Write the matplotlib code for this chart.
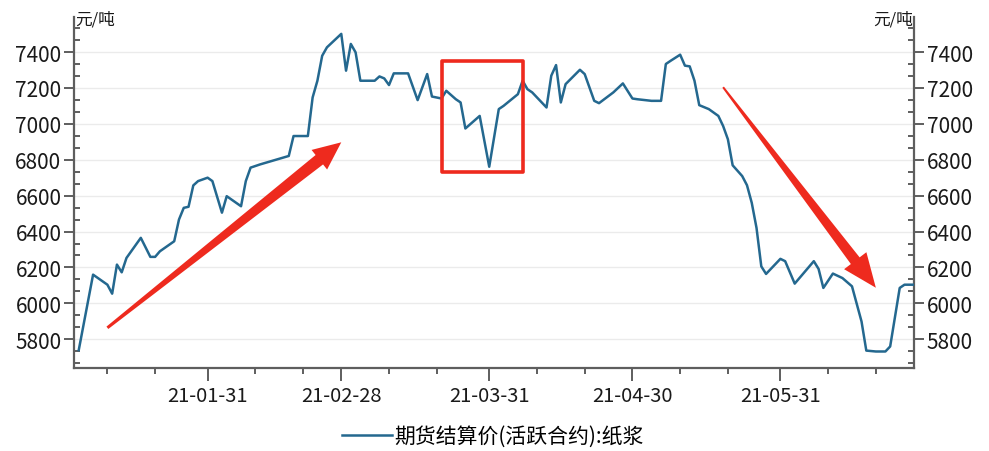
import matplotlib
matplotlib.use("Agg")
import matplotlib.pyplot as plt
import matplotlib.dates as mdates
from matplotlib.ticker import MultipleLocator
from matplotlib.patches import Rectangle, Polygon
from matplotlib.transforms import IdentityTransform
import numpy as np
import pandas as pd

plt.rcParams['font.family'] = ['Noto Sans CJK SC', 'DejaVu Sans']

# 纸浆期货结算价（活跃合约），2021年上半年
dates = [
    '2021-01-04', '2021-01-05', '2021-01-07', '2021-01-10', '2021-01-11', '2021-01-12',
    '2021-01-13', '2021-01-14', '2021-01-17', '2021-01-19', '2021-01-20', '2021-01-21',
    '2021-01-24', '2021-01-25', '2021-01-26', '2021-01-27', '2021-01-28', '2021-01-29',
    '2021-01-31', '2021-02-01', '2021-02-03', '2021-02-04', '2021-02-07', '2021-02-08',
    '2021-02-09', '2021-02-11', '2021-02-17', '2021-02-18', '2021-02-21', '2021-02-22',
    '2021-02-23', '2021-02-24', '2021-02-25', '2021-02-28', '2021-03-01', '2021-03-02',
    '2021-03-03', '2021-03-04', '2021-03-07', '2021-03-08', '2021-03-09', '2021-03-10',
    '2021-03-11', '2021-03-14', '2021-03-16', '2021-03-18', '2021-03-19', '2021-03-21',
    '2021-03-22', '2021-03-24', '2021-03-25', '2021-03-26', '2021-03-29', '2021-03-31',
    '2021-04-02', '2021-04-03', '2021-04-06', '2021-04-07', '2021-04-08', '2021-04-09',
    '2021-04-12', '2021-04-13', '2021-04-14', '2021-04-15', '2021-04-16', '2021-04-19',
    '2021-04-20', '2021-04-22', '2021-04-23', '2021-04-26', '2021-04-28', '2021-04-30',
    '2021-05-01', '2021-05-04', '2021-05-06', '2021-05-07', '2021-05-08', '2021-05-10',
    '2021-05-11', '2021-05-12', '2021-05-13', '2021-05-14', '2021-05-16', '2021-05-18',
    '2021-05-19', '2021-05-20', '2021-05-21', '2021-05-23', '2021-05-24', '2021-05-25',
    '2021-05-26', '2021-05-27', '2021-05-28', '2021-05-31', '2021-06-01', '2021-06-03',
    '2021-06-07', '2021-06-08', '2021-06-09', '2021-06-11', '2021-06-13', '2021-06-15',
    '2021-06-17', '2021-06-18', '2021-06-20', '2021-06-22', '2021-06-23', '2021-06-25',
    '2021-06-26', '2021-06-28',
]
prices = [
    5740, 5880, 6160, 6104, 6054, 6216,
    6173, 6253, 6365, 6259, 6259, 6290,
    6346, 6467, 6532, 6538, 6657, 6681,
    6700, 6681, 6505, 6597, 6541, 6681,
    6756, 6774, 6821, 6932, 6932, 7147,
    7240, 7379, 7426, 7501, 7296, 7445,
    7398, 7240, 7240, 7264, 7253, 7216,
    7281, 7281, 7132, 7277, 7152, 7141,
    7184, 7137, 7119, 6974, 7044, 6761,
    7082, 7100, 7165, 7240, 7193, 7175,
    7091, 7268, 7327, 7119, 7221, 7301,
    7277, 7128, 7115, 7175, 7225, 7141,
    7137, 7128, 7128, 7333, 7351, 7385,
    7324, 7320, 7240, 7104, 7082, 7044,
    6988, 6914, 6769, 6709, 6658, 6560,
    6420, 6206, 6164, 6248, 6235, 6110,
    6235, 6192, 6086, 6166, 6141, 6095,
    5899, 5737, 5732, 5732, 5760, 6086,
    6104, 6104,
]
series_name = '期货结算价(活跃合约):纸浆'
unit = '元/吨'
month_end_ticks = ['2021-01-31', '2021-02-28', '2021-03-31', '2021-04-30', '2021-05-31']

# 标注：上涨箭头、三月回落方框、下跌箭头 (日期, 价格)
up_arrow = (('2021-01-10', 5864), ('2021-02-28', 6897))
dip_box = (('2021-03-21', 6730), ('2021-04-07', 7350))
down_arrow = (('2021-05-19', 7204), ('2021-06-20', 6087))

x = pd.to_datetime(dates)
line_color = '#24688f'
red = '#ee2a1e'
axis_color = '#5e5e5e'

fig = plt.figure(figsize=(9.89, 4.52), dpi=100)
ax = fig.add_axes([0.0748, 0.1836, 0.8494, 0.7766])

ax.plot(x, prices, color=line_color, lw=1.8, label=series_name, zorder=3)

ax.set_xlim(pd.Timestamp('2021-01-03'), pd.Timestamp('2021-06-28'))
ax.set_ylim(5640, 7595)

ax.yaxis.set_major_locator(MultipleLocator(200))
ax.yaxis.set_minor_locator(MultipleLocator(200 / 3))
ax.set_xticks(pd.to_datetime(month_end_ticks))
ax.xaxis.set_major_formatter(mdates.DateFormatter('%y-%m-%d'))
ax.xaxis.set_minor_locator(mdates.DayLocator(bymonthday=[10, 20]))

ax.grid(axis='y', which='major', color='#ebebeb', lw=1.0, zorder=0)

for side in ['left', 'right', 'bottom']:
    ax.spines[side].set_color(axis_color)
    ax.spines[side].set_linewidth(1.6)
ax.spines['top'].set_visible(False)

ax.tick_params(axis='y', which='major', direction='out', length=7, width=1.4,
               color=axis_color, labelsize=15, labelcolor='#1a1a1a', pad=2,
               left=True, right=True, labelleft=True, labelright=True)
ax.tick_params(axis='y', which='minor', direction='in', length=4.5, width=1.4,
               color=axis_color, left=True, right=True)
ax.tick_params(axis='x', which='major', direction='out', length=9.5, width=1.4,
               color=axis_color, labelsize=14.5, labelcolor='#1a1a1a', pad=3)
ax.tick_params(axis='x', which='minor', direction='out', length=4, width=1.4,
               color=axis_color)

fig.text(75 / 989, 1 - 20 / 452, unit, fontsize=12, ha='left', va='center', color='#1a1a1a')
fig.text(913 / 989, 1 - 20 / 452, unit, fontsize=12, ha='right', va='center', color='#1a1a1a')


def tapered_arrow(start, end, tail=2.4, shaft=11, head=26, head_len=30):
    """尾部尖细、逐渐加粗的箭头，尺寸单位为像素"""
    p0 = ax.transData.transform((mdates.date2num(pd.Timestamp(start[0])), start[1]))
    p1 = ax.transData.transform((mdates.date2num(pd.Timestamp(end[0])), end[1]))
    d = (p1 - p0) / np.hypot(*(p1 - p0))
    n = np.array([-d[1], d[0]])
    base = p1 - d * head_len
    pts = [p0 + n * tail / 2, base + n * shaft / 2, base + n * head / 2, p1,
           base - n * head / 2, base - n * shaft / 2, p0 - n * tail / 2]
    ax.add_patch(Polygon(pts, closed=True, facecolor=red, edgecolor='none',
                         transform=IdentityTransform(), zorder=4))


# 红色标注
tapered_arrow(*up_arrow, tail=3, shaft=12, head=25, head_len=28)
tapered_arrow(*down_arrow, tail=2, shaft=11, head=28, head_len=34)

(b0, lo), (b1, hi) = dip_box
bx0 = mdates.date2num(pd.Timestamp(b0))
bx1 = mdates.date2num(pd.Timestamp(b1))
ax.add_patch(Rectangle((bx0, lo), bx1 - bx0, hi - lo, fill=False, edgecolor=red,
                       lw=2.6, joinstyle='round', zorder=4))

fig.legend(loc='center', bbox_to_anchor=(0.4985, 1 - 437 / 452), frameon=False,
           fontsize=15, handlelength=2.4, handletextpad=0.1, borderpad=0)

fig.savefig('out.png', dpi=100)
